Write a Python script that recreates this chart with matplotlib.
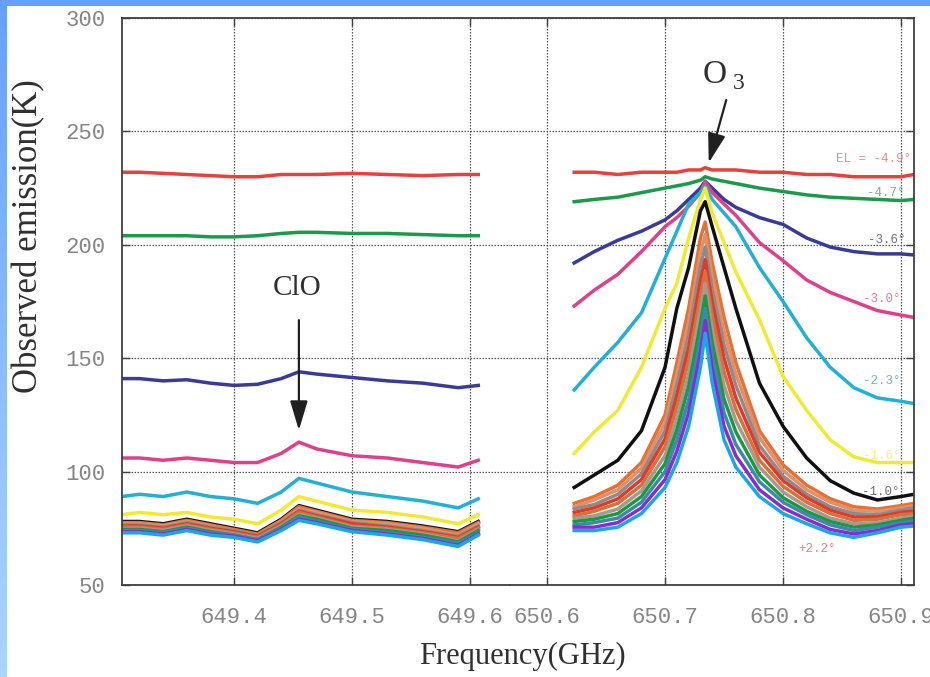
import matplotlib.pyplot as plt
import numpy as np

# frequency grids (GHz) for the two windows
freq_clo = [649.305, 649.32, 649.34, 649.36, 649.38, 649.40, 649.42, 649.44,
            649.455, 649.47, 649.50, 649.53, 649.56, 649.59, 649.607]
freq_o3 = [650.623, 650.64, 650.66, 650.68, 650.70, 650.71, 650.72, 650.73,
           650.734, 650.74, 650.75, 650.76, 650.78, 650.80, 650.82, 650.84,
           650.86, 650.88, 650.90, 650.911]

colors = ['#e8403a', '#1a9a4a', '#3a3a9a', '#e0408a', '#20b0d8', '#f2ea30',
          '#101010', '#e87030', '#e0906a', '#8c8c8c', '#e03a2a', '#d8703a',
          '#a89890', '#1a9a40', '#3a8aa8', '#8a2ad0', '#18a8e8']

# observed emission (K), one list per elevation, ClO window
clo = [
    [232, 232, 231.5, 231, 230.5, 230, 230, 231, 231, 231, 231.5, 231, 230.5, 231, 231],
    [204, 204, 204, 204, 203.5, 203.5, 204, 205, 205.5, 205.5, 205, 205, 204.5, 204, 204],
    [141, 141, 140, 140.5, 139, 138, 138.5, 141, 144, 143, 141.5, 140, 139, 137, 138],
    [106, 106, 105, 106, 105, 104, 104, 108, 113, 110, 107, 106, 104, 102, 105],
    [89, 90, 89, 91, 89, 88, 86, 91, 97, 95, 91, 89, 87, 84, 88],
    [81, 82, 81, 82, 80, 79, 77, 83, 89, 87, 83, 82, 80, 77, 81],
    [78, 78, 77, 79, 77, 75, 73, 79, 85, 83, 79, 78, 76, 73.5, 78],
    [77.5, 77.5, 76.5, 78.5, 76.5, 74.5, 72.5, 78.5, 84.5, 82.5, 78.5, 77.5, 75.5, 73, 77.5],
    [77, 77, 76, 78, 76, 74, 72, 78, 83.5, 82, 78, 77, 75, 72, 77],
    [76.5, 76.5, 75.5, 77.5, 75.5, 74, 72, 77.5, 83, 81, 77.5, 76, 74, 71.5, 76],
    [76, 76, 75, 77, 75, 73.5, 71.5, 77, 82.5, 80.5, 77, 75.5, 73.5, 71, 75.5],
    [75.5, 75.5, 74.5, 76.5, 74.5, 73, 71, 76.5, 82, 80, 76, 75, 73, 70.5, 75],
    [75, 75, 74, 76, 74, 72.5, 70.5, 76, 81, 79.5, 75.5, 74.5, 72.5, 69.5, 74.5],
    [74.5, 74.5, 73.5, 75.5, 73.5, 72, 70, 75.5, 80.5, 79, 75, 74, 72, 69, 74],
    [74, 74, 73, 75, 73, 72, 70, 75, 80, 78, 74.5, 73, 71, 68.5, 73],
    [73.5, 73.5, 72.5, 74.5, 72.5, 71.5, 69.5, 74.5, 79, 77.5, 74, 72.5, 70.5, 67.5, 72.5],
    [73, 73, 72, 74, 72, 71, 69, 74, 78.5, 77, 73.5, 72, 70, 67, 72],
]

# O3 window
o3 = [
    [232, 232, 231, 232, 232, 232, 233, 233, 234, 233, 233, 233, 232, 232, 231, 231, 230, 230, 230, 231],
    [219, 220, 221, 223, 225, 226, 227, 228.5, 230, 229, 228, 227, 225, 223.5, 222, 221, 220.5, 220, 219.5, 220],
    [192, 197, 202, 206, 211, 215, 220, 225, 228, 225, 220, 216.5, 212, 209, 203, 199, 197, 196, 196, 195.5],
    [173, 180, 187, 197, 208, 212, 217, 223, 228, 223, 218, 213, 201, 193, 184.5, 179, 175, 171, 169, 168],
    [136, 146, 157, 170, 194, 206, 218, 223, 226, 220, 214, 208, 190, 175, 159, 146, 137, 132.5, 131, 130],
    [108, 117.5, 127, 146, 172, 183, 203, 220, 225, 214, 201, 188, 167, 142, 127, 114, 106.5, 104, 104, 104],
    [93, 98.5, 105, 118, 146, 172, 190, 215, 219, 208, 190, 172, 139, 120, 106, 96, 90.5, 87.5, 89, 90],
    [86, 89, 94, 104, 125, 148, 172, 203, 210, 192, 168, 148, 118, 103, 94, 88, 84.5, 83.5, 85, 86],
    [84.5, 87.5, 92, 101.5, 121.5, 143, 166, 196.5, 204.5, 186, 162, 143, 115, 100.5, 92, 86.5, 83, 82.5, 84, 85],
    [83.5, 85.5, 90, 99, 118, 138, 160.5, 190.5, 199, 180, 156, 138, 111.5, 98, 90, 84.5, 81.5, 81, 83, 84],
    [82, 84, 88, 96.5, 114.5, 133.5, 154.5, 184, 193.5, 174.5, 150, 132.5, 108.5, 96, 88.5, 83, 80, 80, 82, 82.5],
    [80.5, 82.5, 86, 94, 111, 128.5, 149, 177.5, 188, 168.5, 144, 127.5, 105, 93.5, 86.5, 81.5, 78.5, 79, 81, 81.5],
    [79.5, 80.5, 83.5, 91.5, 107, 123.5, 143, 171.5, 183, 162.5, 138, 122.5, 102, 91, 84.5, 79.5, 77, 77.5, 79.5, 80.5],
    [78, 79, 81.5, 89, 103.5, 118.5, 137.5, 165, 177.5, 156.5, 132, 117.5, 98.5, 88.5, 82.5, 78, 75.5, 76.5, 78.5, 79.5],
    [76.5, 77.5, 79.5, 86.5, 100, 114, 131.5, 158.5, 172, 151, 126, 112, 95.5, 86.5, 81, 76.5, 74, 75.5, 77.5, 78],
    [75.5, 75.5, 77.5, 84, 96.5, 109, 126, 152.5, 166.5, 145, 120, 107, 92, 84, 79, 74.5, 72.5, 74, 76.5, 77],
    [74, 74, 75.5, 81.5, 93, 104, 120, 146, 161, 139, 114, 102, 89, 81.5, 77, 73, 71, 73, 75.5, 76],
]

el_labels = ['EL = -4.9°', '-4.7°', '-3.6°', '-3.0°', '-2.3°', '-1.6°', '-1.0°', '+2.2°']
el_label_f = [650.877, 650.887, 650.888, 650.884, 650.884, 650.884, 650.883, 650.829]
el_label_t = [238, 223, 202, 176, 140, 107, 91, 66]
el_label_c = ['#e88a8a', '#6ab888', '#707090', '#e07ab0', '#6ab8c8', '#f0f090', '#707070', '#e88080']

fig = plt.figure(figsize=(9.3, 6.77), dpi=100)

# blue frame strips (top and left)
top = fig.add_axes([0, 1 - 6 / 677, 1, 6 / 677])
top.set_facecolor('#66a0ff')
top.set_xticks([]); top.set_yticks([])
for s in top.spines.values():
    s.set_visible(False)
side = fig.add_axes([0, 0, 6 / 930, 1])
side.imshow(np.linspace(0, 1, 100).reshape(-1, 1), aspect='auto',
            cmap=plt.matplotlib.colors.LinearSegmentedColormap.from_list('b', ['#66a0ff', '#aad4ff']))
side.axis('off')

bot = 1 - 585 / 677
h = (585 - 18) / 677
axL = fig.add_axes([122 / 930, bot, (510 - 122) / 930, h])
axR = fig.add_axes([510 / 930, bot, (914 - 510) / 930, h], sharey=axL)

for i in range(len(colors)):
    axL.plot(freq_clo, clo[i], color=colors[i], lw=2.5, solid_joinstyle='round')
    axR.plot(freq_o3, o3[i], color=colors[i], lw=2.5, solid_joinstyle='round')

axL.set_xlim(649.3051, 649.6339)
axR.set_xlim(650.5686, 650.911)
axL.set_ylim(50, 300)
axL.set_xticks([649.4, 649.5, 649.6])
axR.set_xticks([650.6, 650.7, 650.8, 650.9])
axL.set_yticks([50, 100, 150, 200, 250, 300])

for ax in (axL, axR):
    ax.grid(True, color='#555555', lw=0.9, linestyle=(0, (1.2, 1.2)))
    ax.tick_params(direction='in', length=6, width=1, color='#404040',
                   top=True, pad=12)
    ax.tick_params(axis='x', pad=16)
    for s in ax.spines.values():
        s.set_color('#404040')
        s.set_linewidth(1.3)
    for lab in ax.get_xticklabels():
        lab.set_fontproperties('Liberation Mono')
        lab.set_fontsize(16)
        lab.set_color('#858585')
axL.spines['right'].set_visible(False)
axR.spines['left'].set_visible(False)
axL.tick_params(axis='y', right=False)
axR.tick_params(axis='y', left=False, right=True, labelleft=False)
for lab in axL.get_yticklabels():
    lab.set_fontproperties('Liberation Mono')
    lab.set_fontsize(16)
    lab.set_color('#858585')

# annotations
axL.text(649.4535, 181, 'ClO', family='Liberation Serif', fontsize=21,
         ha='center', va='center', color='#303030')
axL.annotate('', xy=(649.455, 117), xytext=(649.455, 168),
             arrowprops=dict(arrowstyle='-|>,head_length=1.0,head_width=0.3',
                             color='#202020', lw=1.6, mutation_scale=18))
axR.text(650.7425, 275, 'O', family='Liberation Serif', fontsize=24,
         ha='center', va='center', color='#303030')
axR.text(650.7625, 271, '3', family='Liberation Serif', fontsize=17,
         ha='center', va='center', color='#303030')
axR.annotate('', xy=(650.7364, 235), xytext=(650.7525, 265),
             arrowprops=dict(arrowstyle='-|>,head_length=1.0,head_width=0.3',
                             color='#202020', lw=1.6, mutation_scale=18))
for lab, f, t, c in zip(el_labels, el_label_f, el_label_t, el_label_c):
    axR.text(f, t, lab, family='Liberation Mono', fontsize=9, color=c,
             ha='center', va='center')

fig.text(522 / 930, 1 - 656 / 677, 'Frequency(GHz)', family='Liberation Serif',
         fontsize=22, ha='center', va='center', color='#303030')
fig.text(29 / 930, 1 - 236 / 677, 'Observed emission(K)', family='Liberation Serif',
         fontsize=25, ha='center', va='center', rotation=90, color='#303030')

fig.savefig('out.png', dpi=100)
